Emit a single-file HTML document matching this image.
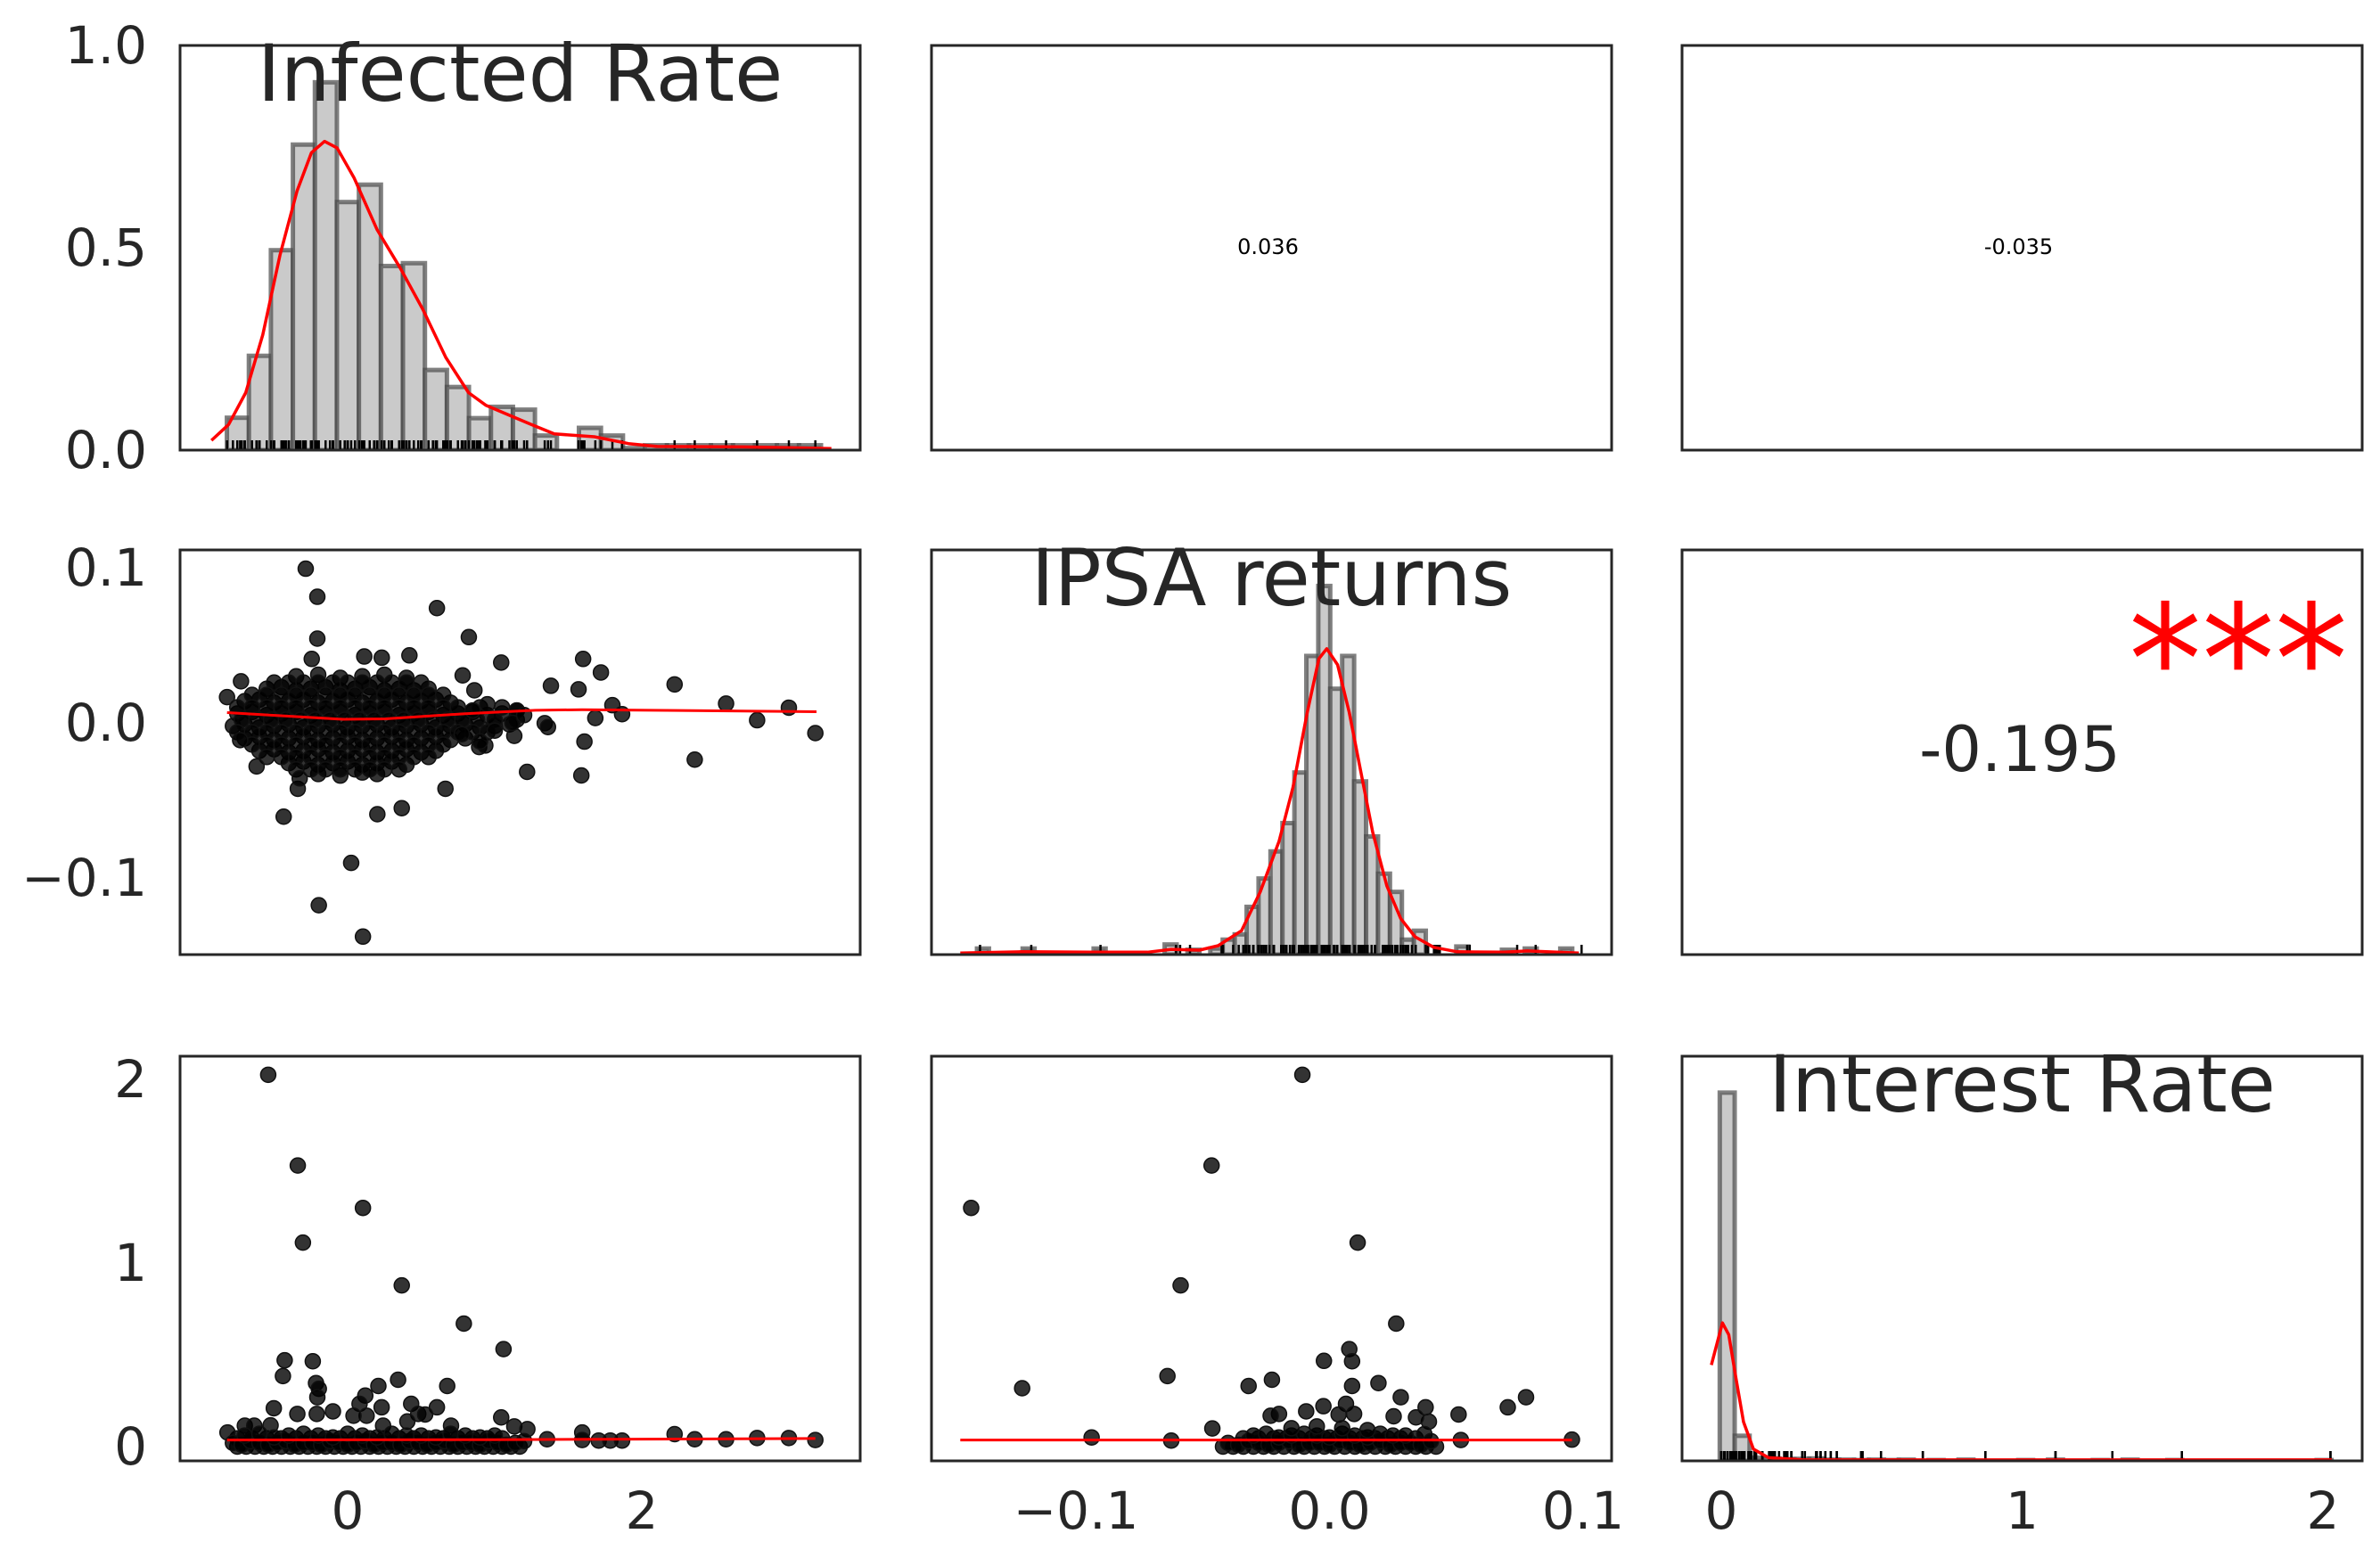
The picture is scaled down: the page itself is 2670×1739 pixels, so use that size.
<!DOCTYPE html>
<html><head><meta charset="utf-8"><style>
html,body{margin:0;padding:0;background:#fff;}
svg{display:block;font-family:"DejaVu Sans","Liberation Sans",sans-serif;}
</style></head><body>
<svg id="chart" width="2670" height="1739" viewBox="0 0 2670 1739" xmlns="http://www.w3.org/2000/svg">
<rect x="0" y="0" width="2670" height="1739" fill="#fff"/>
<g id="layer"></g>
</svg>
<script>
// ---- Infected Rate histogram (density) ----
const infBinStart = -0.821;
const infBinWidth = 0.1496;
const infHist = [0.08,0.233,0.494,0.755,0.909,0.613,0.656,0.455,0.462,0.198,0.156,0.079,0.107,0.100,0.036,0,0.055,0.036,0.005,0.012,0.012,0.012,0.012,0.012,0.012,0.012,0.012];
const infKdeX = [-0.926,-0.81,-0.693,-0.577,-0.46,-0.344,-0.246,-0.157,-0.072,0.045,0.2,0.356,0.511,0.667,0.822,0.939,1.094,1.25,1.405,1.677,1.91,2.104,2.687,3.289];
const infKdeY = [0.024,0.063,0.142,0.285,0.482,0.640,0.735,0.763,0.747,0.672,0.545,0.451,0.348,0.229,0.142,0.111,0.087,0.063,0.040,0.033,0.016,0.009,0.008,0.004];

// ---- IPSA returns histogram (fraction of axis) ----
const ipsaBinStart = -0.0421;
const ipsaBinWidth = 0.00471;
const ipsaHist = [0.037,0.05,0.118,0.188,0.255,0.325,0.45,0.738,0.911,0.657,0.738,0.428,0.292,0.2,0.155,0.037,0.059];
const ipsaTailX = [-0.139,-0.121,-0.093,-0.065,-0.056,-0.047,0.050,0.068,0.077,0.091];
const ipsaTailH = [0.015,0.015,0.015,0.025,0.012,0.015,0.02,0.012,0.015,0.015];
const ipsaKdeX = [-0.1456,-0.1216,-0.0938,-0.0717,-0.0624,-0.0513,-0.0439,-0.0347,-0.0273,-0.0199,-0.0144,-0.0088,-0.0042,-0.0011,0.0032,0.0078,0.0124,0.0170,0.0226,0.0281,0.0337,0.0411,0.0503,0.0688,0.0780,0.0983];
const ipsaKdeY = [0.004,0.007,0.006,0.006,0.013,0.011,0.022,0.059,0.155,0.280,0.413,0.598,0.731,0.756,0.716,0.598,0.450,0.303,0.170,0.089,0.044,0.018,0.007,0.006,0.009,0.004];

// ---- Interest Rate histogram ----
const intBinStart = -0.005;
const intBinWidth = 0.0496;
const intHist = [0.91,0.062,0.008,0.006,0.004,0.005,0.006,0.003,0.003,0.002,0.003,0.002,0.003,0,0.002,0,0.003,0,0,0,0.002,0,0.003,0,0,0.002,0,0.003,0,0,0.002,0,0,0,0,0,0,0,0,0,0.002];
const intKdeX = [-0.033,0.004,0.025,0.049,0.074,0.107,0.157,0.272,2.03];
const intKdeY = [0.237,0.341,0.312,0.204,0.096,0.029,0.008,0.0025,0.0025];

// ---- Scatter: IPSA vs Infected ----
const clusterInf = [-0.35,-0.2,-0.05,0.1,0.25,0.4,
-0.55,-0.45,-0.35,-0.25,-0.15,-0.05,0.05,0.15,0.25,0.35,0.45,0.55,
-0.7,-0.6,-0.5,-0.4,-0.3,-0.2,-0.1,0,0.1,0.2,0.3,0.4,0.5,0.6,0.7,
-0.75,-0.65,-0.55,-0.45,-0.35,-0.25,-0.15,-0.05,0.05,0.15,0.25,0.35,0.45,0.55,0.65,0.75,0.85,0.95,1.05,1.15,
-0.78,-0.7,-0.6,-0.5,-0.4,-0.3,-0.2,-0.1,0,0.1,0.2,0.3,0.4,0.5,0.6,0.7,0.8,0.9,1.0,1.1,
-0.7,-0.6,-0.5,-0.4,-0.3,-0.2,-0.1,0,0.1,0.2,0.3,0.4,0.5,0.6,0.7,0.8,
-0.6,-0.5,-0.4,-0.3,-0.2,-0.1,0,0.1,0.2,0.3,0.4,0.5,0.6,
-0.4,-0.3,-0.2,-0.1,0,0.1,0.2,0.3,0.4,
-0.2,-0.05,0.1,0.2];
const clusterIpsa = [0.030,0.031,0.029,0.030,0.031,0.029,
0.022,0.023,0.021,0.022,0.023,0.021,0.022,0.023,0.021,0.022,0.021,0.022,
0.014,0.015,0.013,0.014,0.015,0.013,0.014,0.015,0.013,0.014,0.015,0.013,0.014,0.015,0.013,
0.006,0.007,0.005,0.006,0.007,0.005,0.006,0.007,0.005,0.006,0.007,0.005,0.006,0.007,0.005,0.006,0.007,0.005,0.006,0.008,
-0.002,-0.001,-0.003,-0.002,-0.001,-0.003,-0.002,-0.001,-0.003,-0.002,-0.001,-0.003,-0.002,-0.001,-0.003,-0.002,-0.001,-0.003,-0.002,-0.001,
-0.010,-0.009,-0.011,-0.010,-0.009,-0.011,-0.010,-0.009,-0.011,-0.010,-0.009,-0.011,-0.010,-0.009,-0.011,-0.010,
-0.018,-0.017,-0.019,-0.018,-0.017,-0.019,-0.018,-0.017,-0.019,-0.018,-0.017,-0.019,-0.018,
-0.026,-0.025,-0.027,-0.026,-0.025,-0.027,-0.026,-0.025,-0.027,
-0.033,-0.034,-0.032,-0.033];
const cluster2Inf = [-0.5,-0.4,-0.3,-0.2,-0.1,0,0.1,0.2,0.3,0.4,0.5,
-0.65,-0.55,-0.45,-0.35,-0.25,-0.15,-0.05,0.05,0.15,0.25,0.35,0.45,0.55,0.65,
-0.75,-0.65,-0.55,-0.45,-0.35,-0.25,-0.15,-0.05,0.05,0.15,0.25,0.35,0.45,0.55,0.65,0.75,0.9,
-0.72,-0.62,-0.52,-0.42,-0.32,-0.22,-0.12,-0.02,0.08,0.18,0.28,0.38,0.48,0.58,0.68,0.78,0.88,1.0,1.15,
-0.75,-0.65,-0.55,-0.45,-0.35,-0.25,-0.15,-0.05,0.05,0.15,0.25,0.35,0.45,0.55,0.65,0.75,0.85,0.95,
-0.65,-0.55,-0.45,-0.35,-0.25,-0.15,-0.05,0.05,0.15,0.25,0.35,0.45,0.55,0.65,
-0.55,-0.45,-0.35,-0.25,-0.15,-0.05,0.05,0.15,0.25,0.35,0.45,0.55,
-0.35,-0.25,-0.15,-0.05,0.05,0.15,0.25,0.35];
const cluster2Ipsa = [0.026,0.026,0.026,0.026,0.026,0.026,0.026,0.026,0.026,0.026,0.026,
0.018,0.018,0.018,0.018,0.018,0.018,0.018,0.018,0.018,0.018,0.018,0.018,0.018,0.018,
0.010,0.010,0.010,0.010,0.010,0.010,0.010,0.010,0.010,0.010,0.010,0.010,0.010,0.010,0.010,0.010,0.010,
0.002,0.002,0.002,0.002,0.002,0.002,0.002,0.002,0.002,0.002,0.002,0.002,0.002,0.002,0.002,0.002,0.002,0.002,0.002,
-0.006,-0.006,-0.006,-0.006,-0.006,-0.006,-0.006,-0.006,-0.006,-0.006,-0.006,-0.006,-0.006,-0.006,-0.006,-0.006,-0.006,-0.006,
-0.014,-0.014,-0.014,-0.014,-0.014,-0.014,-0.014,-0.014,-0.014,-0.014,-0.014,-0.014,-0.014,-0.014,
-0.022,-0.022,-0.022,-0.022,-0.022,-0.022,-0.022,-0.022,-0.022,-0.022,-0.022,-0.022,
-0.030,-0.030,-0.030,-0.030,-0.030,-0.030,-0.030,-0.030];
const outInf = [-0.285,-0.206,0.607,-0.206,0.824,1.044,1.601,1.722,2.223,1.382,1.57,2.573,3.0,1.80,1.866,1.684,2.784,3.18,2.36,1.61,1.589,1.22,1.133,1.34,1.362,0.665,0.368,0.202,-0.435,0.024,-0.196,0.104,-0.619,-0.339,-0.326,0.894,0.936,0.776,0.862,0.782,0.42,0.232,0.113,-0.244,-0.82,-0.725,-0.731,0.85,0.95,1.05,1.15,1.0,1.12,0.9,1.2];
const outIpsa = [0.0994,0.0813,0.074,0.0543,0.0553,0.0389,0.0412,0.0325,0.0248,0.0239,0.0216,0.0124,0.0098,0.0114,0.0056,0.0031,0.0017,-0.0066,-0.0237,-0.0121,-0.0339,-0.0316,-0.0084,-0.0002,-0.0027,-0.0425,-0.055,-0.0589,-0.0605,-0.0903,-0.1176,-0.1378,-0.0281,-0.0425,-0.0358,-0.0156,-0.0146,-0.0073,0.021,0.0306,0.0435,0.042,0.0428,0.0412,0.0166,0.0268,-0.0111,0.008,0.012,0.01,0.008,-0.005,0.0,-0.012,0.005];
const fitInfX = [-0.82,-0.03,0.257,0.798,1.276,1.595,3.188];
const fitInfY = [0.0066,0.0023,0.0026,0.0059,0.0081,0.0085,0.0072];

// ---- Scatter: Interest vs Infected ----
const rInf = [-0.54,-0.339,0.104,-0.304,0.368,0.79,1.06,-0.428,-0.237,-0.44,-0.215,-0.196,-0.206,0.209,0.343,0.677,-0.502,-0.342,-0.1,-0.21,0.12,0.081,0.231,0.432,0.607,0.48,1.044,0.129,0.04,0.241,0.406,0.527,0.703,1.133,1.222,-0.699,-0.635,-0.817,-0.524,2.223,2.36,2.573,2.784,3.0,3.18,1.356,1.595,1.595,1.707,1.786,1.866,
-0.78,-0.72,-0.66,-0.6,-0.54,-0.48,-0.42,-0.36,-0.3,-0.24,-0.18,-0.12,-0.06,0,0.06,0.12,0.18,0.24,0.3,0.36,0.42,0.48,0.54,0.6,0.66,0.72,0.78,0.84,0.9,0.96,1.02,1.08,1.14,1.2,
-0.7,-0.6,-0.5,-0.4,-0.3,-0.2,-0.1,0,0.1,0.2,0.3,0.4,0.5,0.6,0.7,0.8,0.9,1.0];
const rInt = [2.025,1.531,1.30,1.111,0.878,0.67,0.531,0.47,0.465,0.384,0.346,0.315,0.269,0.33,0.364,0.33,0.209,0.178,0.192,0.178,0.278,0.233,0.214,0.233,0.214,0.178,0.159,0.168,0.168,0.114,0.137,0.175,0.114,0.11,0.095,0.114,0.114,0.077,0.116,0.068,0.04,0.04,0.047,0.047,0.036,0.04,0.077,0.036,0.033,0.033,0.033,
0.02,0.01,0.03,0.02,0.01,0.02,0.03,0.01,0.02,0.02,0.01,0.03,0.02,0.01,0.02,0.03,0.01,0.02,0.02,0.01,0.03,0.02,0.01,0.02,0.03,0.01,0.02,0.02,0.01,0.03,0.02,0.01,0.02,0.03,
0.06,0.07,0.05,0.06,0.07,0.06,0.05,0.07,0.06,0.05,0.07,0.06,0.06,0.05,0.07,0.06,0.05,0.06];
const band2Inf = [-0.75,-0.69,-0.63,-0.57,-0.51,-0.45,-0.39,-0.33,-0.27,-0.21,-0.15,-0.09,-0.03,0.03,0.09,0.15,0.21,0.27,0.33,0.39,0.45,0.51,0.57,0.63,0.69,0.75,0.81,0.87,0.93,0.99,1.05,1.11,1.17,
-0.75,-0.65,-0.55,-0.45,-0.35,-0.25,-0.15,-0.05,0.05,0.15,0.25,0.35,0.45,0.55,0.65,0.75,0.85,0.95,1.05];
const band2Int = [0.0,0.0,0.0,0.0,0.0,0.0,0.0,0.0,0.0,0.0,0.0,0.0,0.0,0.0,0.0,0.0,0.0,0.0,0.0,0.0,0.0,0.0,0.0,0.0,0.0,0.0,0.0,0.0,0.0,0.0,0.0,0.0,0.0,
0.045,0.045,0.045,0.045,0.045,0.045,0.045,0.045,0.045,0.045,0.045,0.045,0.045,0.045,0.045,0.045,0.045,0.045,0.045];
const fitRX = [-0.82,1.0,3.18];
const fitRY = [0.036,0.038,0.044];

// ---- Scatter: Interest vs IPSA ----
const sIpsa = [-0.0107,-0.0465,-0.1413,0.0111,-0.0587,0.0263,0.0078,0.0089,-0.0022,-0.1212,-0.0639,-0.0319,-0.0227,0.0089,0.0193,0.0281,0.0775,0.0703,0.0379,0.0509,0.0392,0.0341,0.0253,-0.0024,-0.0092,0.0065,0.0036,0.0097,-0.0199,-0.0462,-0.0232,-0.0938,-0.0624,0.0518,0.0956,0.0374,
-0.04,-0.036,-0.032,-0.028,-0.024,-0.02,-0.016,-0.012,-0.008,-0.004,0,0.004,0.008,0.012,0.016,0.02,0.024,0.028,0.032,0.036,0.04,
-0.03,-0.025,-0.02,-0.015,-0.01,-0.005,0,0.005,0.01,0.015,0.02,0.025,0.03,
-0.015,-0.005,0.005,0.015];
const sInt = [2.025,1.531,1.30,1.111,0.878,0.67,0.531,0.465,0.467,0.318,0.384,0.33,0.364,0.33,0.346,0.269,0.269,0.214,0.214,0.175,0.136,0.159,0.165,0.22,0.192,0.233,0.175,0.178,0.178,0.099,0.168,0.05,0.033,0.036,0.038,0.068,
0.02,0.01,0.03,0.02,0.01,0.02,0.03,0.01,0.02,0.02,0.01,0.03,0.02,0.01,0.02,0.03,0.01,0.02,0.02,0.01,0.03,
0.06,0.07,0.05,0.06,0.07,0.06,0.05,0.07,0.06,0.05,0.07,0.06,0.06,
0.10,0.11,0.10,0.09];
const band2Ipsa = [-0.042,-0.038,-0.034,-0.030,-0.026,-0.022,-0.018,-0.014,-0.010,-0.006,-0.002,0.002,0.006,0.010,0.014,0.018,0.022,0.026,0.030,0.034,0.038,0.042,
-0.034,-0.028,-0.022,-0.017,-0.012,-0.007,-0.002,0.003,0.008,0.013,0.018,0.023,0.028,0.034];
const band2SInt = [0.0,0.0,0.0,0.0,0.0,0.0,0.0,0.0,0.0,0.0,0.0,0.0,0.0,0.0,0.0,0.0,0.0,0.0,0.0,0.0,0.0,0.0,
0.045,0.045,0.045,0.045,0.045,0.045,0.045,0.045,0.045,0.045,0.045,0.045,0.045,0.045];
const fitSX = [-0.1456,0.0956];
const fitSY = [0.036,0.036];

// ---- Correlation annotations & labels ----
const corrTop = ["0.036","-0.035"];
const corrMid = "-0.195";
const titles = ["Infected Rate","IPSA returns","Interest Rate"];
const yTicks0 = [0,0.5,1.0]; const yLabels0 = ["0.0","0.5","1.0"];
const yTicks1 = [0.1,0,-0.1]; const yLabels1 = ["0.1","0.0","\u22120.1"];
const yTicks2 = [2,1,0]; const yLabels2 = ["2","1","0"];
const xTicks0 = [0,2]; const xLabels0 = ["0","2"];
const xTicks1 = [-0.1,0,0.1]; const xLabels1 = ["\u22120.1","0.0","0.1"];
const xTicks2 = [0,1,2]; const xLabels2 = ["0","1","2"];

// ---- geometry ----
const NS = "http://www.w3.org/2000/svg";
const layer = document.getElementById('layer');
const colX = [202,1045,1887], rowY = [51,617,1185], PW = 763, PH = 454;
const sx0 = v => 390 + v*165;
const sx1 = v => 1491.5 + v*2845;
const sx2 = v => 1931 + v*337.5;
const sy1 = v => 811 - v*1740;
const sy2 = v => 1623 - v*206;
const fy = r => f => rowY[r] + PH - f*PH;

function mk(tag, attrs, parent){
  const e = document.createElementNS(NS, tag);
  for (const k in attrs) e.setAttribute(k, attrs[k]);
  (parent||layer).appendChild(e);
  return e;
}
function clipFor(id, c, r){
  let defs = document.getElementById('defs');
  if(!defs){ defs = mk('defs',{id:'defs'}); }
  const cp = mk('clipPath',{id:id}, defs);
  mk('rect',{x:colX[c],y:rowY[r],width:PW,height:PH}, cp);
}
function panelGroup(name, c, r){
  clipFor('clip-'+name, c, r);
  const g = mk('g',{'clip-path':'url(#clip-'+name+')'});
  
  
  return g;
}
function hist(g, start, w, hs, sx, sy, name){
  hs.forEach((h,i)=>{
    if(h<=0) return;
    const x0 = sx(start+i*w), x1 = sx(start+(i+1)*w);
    const b = mk('rect',{x:x0,y:sy(h),width:x1-x0,height:sy(0)-sy(h),fill:'#c4c4c4',stroke:'#4a4a4a','stroke-width':5,'stroke-opacity':0.7,'fill-opacity':0.9}, g);
    
    
  });
}
function line(g, xs, ys, sx, sy, name, w){
  const d = xs.map((x,i)=>(i?'L':'M')+sx(x).toFixed(1)+','+sy(ys[i]).toFixed(1)).join(' ');
  const p = mk('path',{d:d,fill:'none',stroke:'#ff0000','stroke-width':w||3.5,'stroke-linejoin':'round'}, g);
  
  
}
function rug(g, vals, sx, base, name){
  vals.forEach(v=>{
    const x = sx(v);
    const l = mk('line',{x1:x,x2:x,y1:base,y2:base-11,stroke:'#000','stroke-width':2.5}, g);
    
    
  });
}
function dots(g, xs, ys, sx, sy, name){
  xs.forEach((x,i)=>{
    const c = mk('circle',{cx:sx(x),cy:sy(ys[i]),r:8.5,fill:'#000','fill-opacity':0.8,stroke:'#111','stroke-width':1.5}, g);
    
    
  });
}
function frame(c, r, name){
  const f = mk('rect',{x:colX[c],y:rowY[r],width:PW,height:PH,fill:'none',stroke:'#262626','stroke-width':3});
  
  
}
function txt(x, y, s, size, anchor, color, name, extra){
  const t = mk('text',Object.assign({x:x,y:y,'font-size':size,'text-anchor':anchor,fill:color}, extra||{}));
  t.textContent = s;
  
  
  return t;
}

const allInf = clusterInf.concat(cluster2Inf, outInf);
const allIpsa = clusterIpsa.concat(cluster2Ipsa, outIpsa);
const allInt = rInt.concat(band2Int, sInt);

// Panel (0,0)
let g = panelGroup('infected-rate-hist', 0, 0);
hist(g, infBinStart, infBinWidth, infHist, sx0, fy(0), 'infected');
rug(g, allInf, sx0, rowY[0]+PH, 'infected-rug');
line(g, infKdeX, infKdeY, sx0, fy(0), 'infected-kde');

// Panel (1,1)
g = panelGroup('ipsa-hist', 1, 1);
hist(g, ipsaBinStart, ipsaBinWidth, ipsaHist, sx1, fy(1), 'ipsa');
ipsaTailX.forEach((x,i)=>hist(g, x, ipsaBinWidth, [ipsaTailH[i]], sx1, fy(1), 'ipsa-tail'));
rug(g, allIpsa.concat(band2Ipsa), sx1, rowY[1]+PH, 'ipsa-rug');
line(g, ipsaKdeX, ipsaKdeY, sx1, fy(1), 'ipsa-kde');

// Panel (2,2)
g = panelGroup('interest-hist', 2, 2);
hist(g, intBinStart, intBinWidth, intHist, sx2, fy(2), 'interest');
rug(g, allInt, sx2, rowY[2]+PH, 'interest-rug');
line(g, intKdeX, intKdeY, sx2, fy(2), 'interest-kde');

// Panel (1,0)
g = panelGroup('ipsa-vs-infected', 0, 1);
dots(g, clusterInf, clusterIpsa, sx0, sy1, 'ipsa-infected-point');
dots(g, cluster2Inf, cluster2Ipsa, sx0, sy1, 'ipsa-infected-point');
dots(g, outInf, outIpsa, sx0, sy1, 'ipsa-infected-point');
line(g, fitInfX, fitInfY, sx0, sy1, 'ipsa-infected-fit', 3);

// Panel (2,0)
g = panelGroup('interest-vs-infected', 0, 2);
dots(g, band2Inf, band2Int, sx0, sy2, 'interest-infected-point');
dots(g, rInf, rInt, sx0, sy2, 'interest-infected-point');
line(g, fitRX, fitRY, sx0, sy2, 'interest-infected-fit', 3);

// Panel (2,1)
g = panelGroup('interest-vs-ipsa', 1, 2);
dots(g, band2Ipsa, band2SInt, sx1, sy2, 'interest-ipsa-point');
dots(g, sIpsa, sInt, sx1, sy2, 'interest-ipsa-point');
line(g, fitSX, fitSY, sx1, sy2, 'interest-ipsa-fit', 3);

// Frames
for(let r=0;r<3;r++) for(let c=0;c<3;c++) frame(c, r, 'panel-frame-r'+r+'-c'+c);

// Titles
titles.forEach((t,i)=>txt(colX[i]+PW/2, rowY[i]+62, t, 88, 'middle', '#262626', 'diag-title-'+i));

// Correlation texts
txt(colX[1]+PW/2-4, 285, corrTop[0], 24, 'middle', '#000', 'corr-infected-ipsa');
txt(colX[2]+PW/2-4, 285, corrTop[1], 24, 'middle', '#000', 'corr-infected-interest');
txt(2266, 865, corrMid, 70, 'middle', '#262626', 'corr-ipsa-interest');
txt(2634, 800, '***', 170, 'end', '#ff0000', 'significance-stars', {textLength:246,lengthAdjust:'spacingAndGlyphs'});

// Y ticks
[[yTicks0,yLabels0,fy(0)],[yTicks1,yLabels1,sy1],[yTicks2,yLabels2,sy2]].forEach((a,r)=>{
  a[0].forEach((v,i)=>txt(165, a[2](v), a[1][i], 58, 'end', '#262626', 'y-tick-label-r'+r, {'dominant-baseline':'central'}));
});
// X ticks
[[xTicks0,xLabels0,sx0],[xTicks1,xLabels1,sx1],[xTicks2,xLabels2,sx2]].forEach((a,c)=>{
  a[0].forEach((v,i)=>txt(a[2](v), 1715, a[1][i], 58, 'middle', '#262626', 'x-tick-label-c'+c));
});
</script>
</body></html>
